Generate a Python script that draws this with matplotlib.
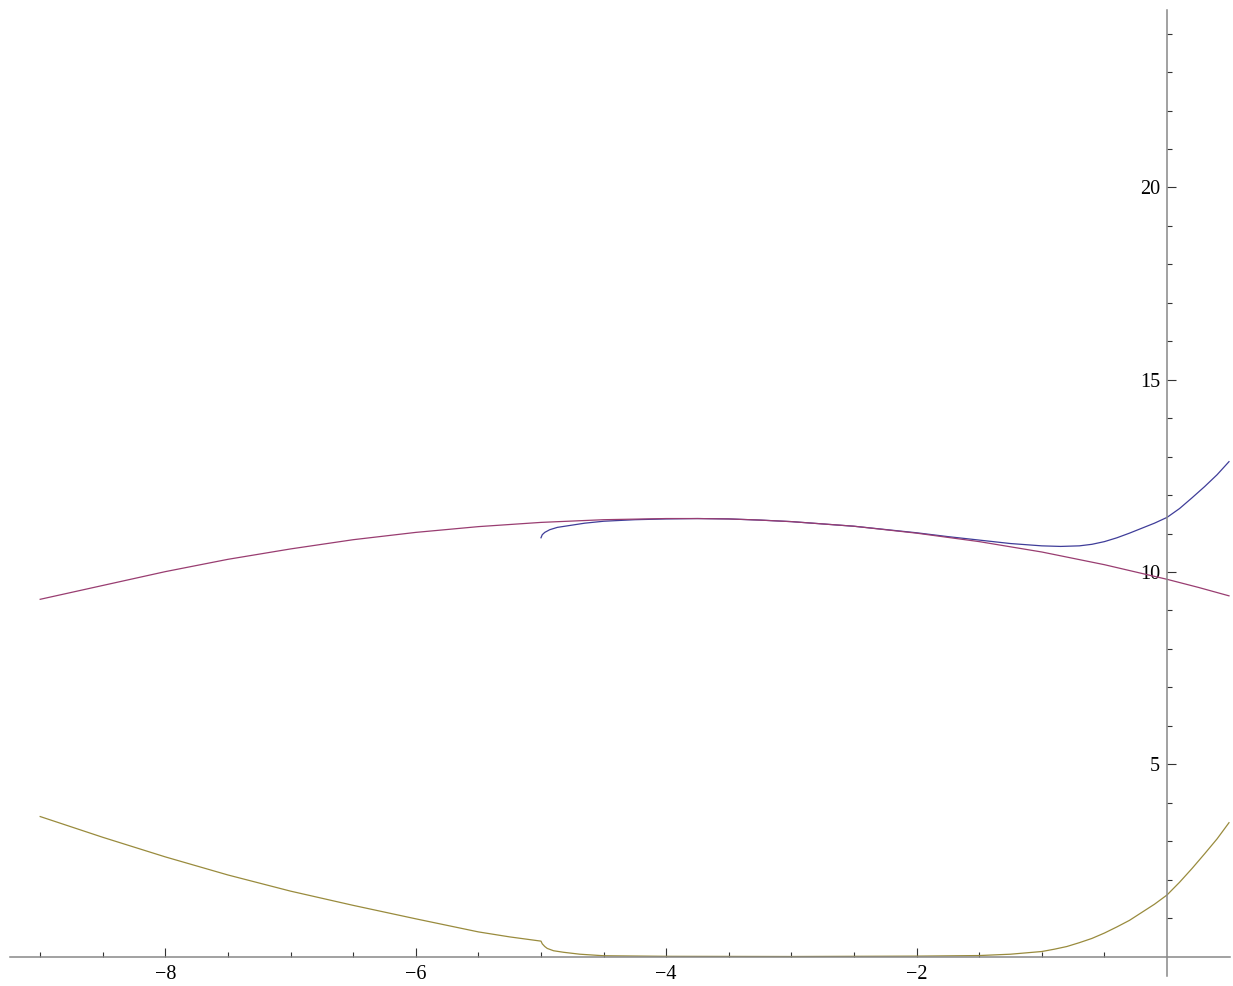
#!/usr/bin/env python3
import numpy as np
import matplotlib; matplotlib.use('Agg')
import matplotlib.pyplot as plt
from matplotlib.ticker import FixedLocator

# values
blue_x = [-5.0, -4.99, -4.97, -4.93, -4.87, -4.79, -4.65, -4.5, -4.25, -4.0, -3.75, -3.5, -3.25,
          -3.0, -2.5, -2.0, -1.75, -1.5, -1.25, -1.0, -0.85, -0.7, -0.6, -0.5, -0.4, -0.3, -0.2,
          -0.1, 0.0, 0.1, 0.2, 0.3, 0.4, 0.495]
blue_y = [10.89, 10.97, 11.03, 11.10, 11.16, 11.20, 11.27, 11.32, 11.36, 11.38, 11.39, 11.38, 11.35,
          11.31, 11.19, 11.02, 10.92, 10.83, 10.74, 10.68, 10.665, 10.68, 10.72, 10.79, 10.89, 11.01,
          11.14, 11.27, 11.42, 11.65, 11.93, 12.22, 12.53, 12.87]

purple_x = [-9.0, -8.5, -8.0, -7.5, -7.0, -6.5, -6.0, -5.5, -5.0, -4.5, -4.0, -3.75, -3.5, -3.25,
            -3.0, -2.5, -2.0, -1.5, -1.0, -0.5, 0.0, 0.25, 0.495]
purple_y = [9.29, 9.65, 10.01, 10.33, 10.60, 10.84, 11.03, 11.18, 11.29, 11.36, 11.39, 11.39, 11.38,
            11.35, 11.31, 11.19, 11.01, 10.79, 10.52, 10.19, 9.81, 9.60, 9.38]

olive_x = [-9.0, -8.5, -8.0, -7.5, -7.0, -6.5, -6.0, -5.75, -5.5, -5.25, -5.0, -4.99, -4.97, -4.95,
           -4.9, -4.82, -4.69, -4.5, -4.0, -3.0, -2.0, -1.5, -1.25, -1.0, -0.9, -0.8, -0.7, -0.6,
           -0.5, -0.4, -0.3, -0.2, -0.1, 0.0, 0.1, 0.2, 0.3, 0.4, 0.495]
olive_y = [3.64, 3.10, 2.59, 2.12, 1.70, 1.33, 0.98, 0.81, 0.64, 0.51, 0.40, 0.33, 0.26, 0.21,
           0.15, 0.11, 0.06, 0.02, 0.005, 0.0, 0.01, 0.025, 0.06, 0.13, 0.19, 0.26, 0.36, 0.47,
           0.61, 0.77, 0.94, 1.15, 1.36, 1.60, 1.93, 2.29, 2.67, 3.06, 3.48]

x_major = [-8, -6, -4, -2]
x_minor = [-9, -8.5, -7.5, -7, -6.5, -5.5, -5, -4.5, -3.5, -3, -2.5, -1.5, -1, -0.5]
y_major = [5, 10, 15, 20]
y_minor = [1, 2, 3, 4, 6, 7, 8, 9, 11, 12, 13, 14, 16, 17, 18, 19, 21, 22, 23, 24]


def main():
    plt.rcParams['font.family'] = ['Liberation Serif', 'DejaVu Serif']
    fig = plt.figure(figsize=(12.33, 9.86), dpi=100)
    ax = fig.add_axes([0, 0, 1, 1])
    ax.plot(blue_x, blue_y, color='#3F3D99', lw=0.9)
    ax.plot(purple_x, purple_y, color='#993D71', lw=0.9)
    ax.plot(olive_x, olive_y, color='#998B3D', lw=0.9)

    ax.set_xlim(-9.321, 0.527)
    ax.set_ylim(-0.767, 24.876)
    for s in ['top', 'right']:
        ax.spines[s].set_visible(False)
    ax.spines['bottom'].set_position(('data', 0))
    ax.spines['left'].set_position(('data', 0))
    ax.spines['bottom'].set_bounds(-9.24, 0.5)
    ax.spines['left'].set_bounds(-0.5, 24.62)
    for s in ['bottom', 'left']:
        ax.spines[s].set_color('#888888'); ax.spines[s].set_linewidth(1.1)

    ax.xaxis.set_major_locator(FixedLocator(x_major))
    ax.xaxis.set_minor_locator(FixedLocator(x_minor))
    ax.yaxis.set_major_locator(FixedLocator(y_major))
    ax.yaxis.set_minor_locator(FixedLocator(y_minor))
    ax.tick_params(which='both', direction='in', color='#333333', width=0.8, labelsize=14.5)
    ax.tick_params(which='major', length=6.5)
    ax.tick_params(which='minor', length=3.6)
    ax.tick_params(axis='x', pad=6)
    ax.tick_params(axis='y', pad=5)
    ax.patch.set_visible(False)
    plt.savefig('out.png', dpi=100); plt.close()


if __name__ == '__main__':
    main()
